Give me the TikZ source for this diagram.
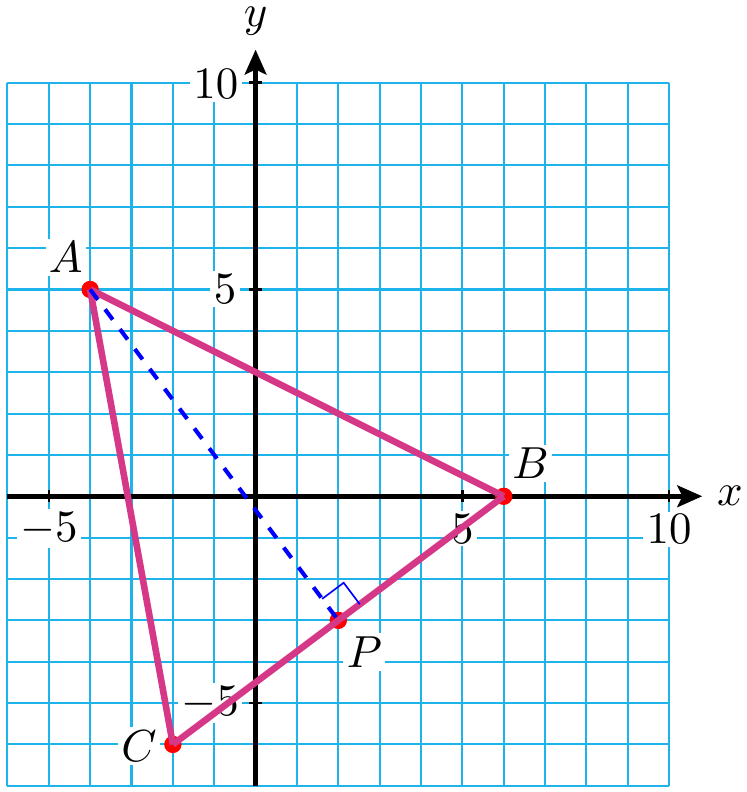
\documentclass[tikz,border=0pt]{standalone}
\usetikzlibrary{arrows.meta}
\definecolor{gridblue}{RGB}{30,180,235}
\definecolor{tri}{RGB}{214,56,136}
\begin{document}
\begin{tikzpicture}[x=1cm,y=1cm,
  every node/.style={scale=3.09},
  lbl/.style={fill=white, inner sep=0.75pt},
  axlbl/.style={inner sep=0.5pt},
  axisline/.style={line width=0.12cm, -{Stealth[length=0.6cm,width=0.52cm,inset=0.12cm]}},
  tickline/.style={line width=0.06cm},
  side/.style={tri, line width=0.16cm},
  dot/.style={red}]
\useasboundingbox (-6.18,-7.15) rectangle (11.86,12.0);
% grid
\draw[gridblue, line width=0.05cm] (-6,-7) grid (10,10);
% tick labels
\node[lbl] (xm5) at (-5,-0.78) {$-5$};
\node[lbl] (x5) at (5,-0.78) {$5$};
\node[lbl] (x10) at (10,-0.8) {$10$};
\node[lbl] (y10) at (-0.96,9.96) {$10$};
\node[lbl] (y5) at (-0.74,5.01) {$5$};
\node[lbl] (ym5) at (-1.1,-5.0) {$-5$};
% point labels
\node[lbl] (lA) at (-4.59,5.77) {$A$};
\node[lbl] (lB) at (6.65,0.79) {$B$};
\node[lbl] (lC) at (-2.82,-6.04) {$C$};
\node[lbl] (lP) at (2.63,-3.77) {$P$};
% axes
\coordinate (xs) at (-6,0);
\coordinate (xe) at (10.8,0);
\coordinate (ys) at (0,-7);
\coordinate (ye) at (0,10.8);
\draw[axisline] (xs) -- (xe);
\draw[axisline] (ys) -- (ye);
\node[axlbl] (xl) at (11.47,0.02) {$x$};
\node[axlbl] (yl) at (0,11.48) {$y$};
\foreach \v in {-5,5,10} {
  \draw[tickline] (\v,-0.15) -- (\v,0.15);
}
\foreach \v in {-5,5,10} {
  \draw[tickline] (-0.15,\v) -- (0.15,\v);
}
% points
\coordinate (A) at (-4,5);
\coordinate (B) at (6,0);
\coordinate (C) at (-2,-6);
\coordinate (P) at (2,-3);
\foreach \p in {A,B,C,P} {
  \fill[dot] (\p) circle (0.21);
}
% triangle
\draw[side] (A) -- (B);
\draw[side] (B) -- (C);
\draw[side] (C) -- (A);
% altitude
\draw[blue, line width=0.1cm, dash pattern=on 0.31cm off 0.29cm] (A) -- (P);
% right angle mark
\coordinate (r1) at (2.52,-2.61);
\coordinate (r2) at (2.13,-2.09);
\coordinate (r3) at (1.61,-2.48);
\draw[blue, line width=0.04cm] (r1) -- (r2) -- (r3);
\end{tikzpicture}
\end{document}
